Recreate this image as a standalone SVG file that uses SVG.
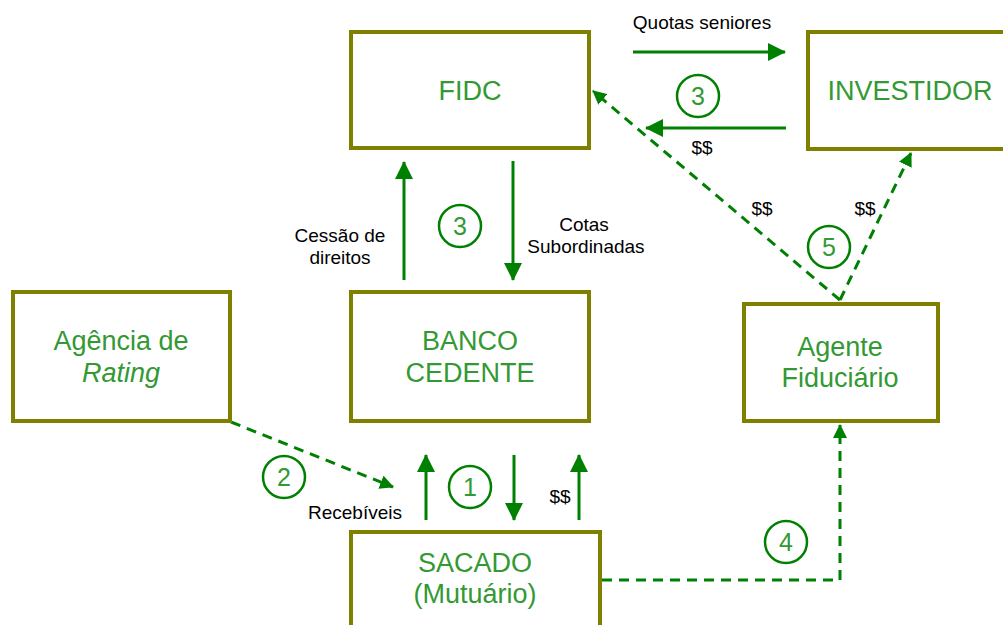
<svg xmlns="http://www.w3.org/2000/svg" width="1003" height="625" viewBox="0 0 1003 625">
<defs>
<style>
.box{fill:#fff;stroke:#808000;stroke-width:4}
.nt{font-family:"Liberation Sans",Arial,sans-serif;font-size:27px;fill:#339933;text-anchor:middle}
.lb{font-family:"Liberation Sans",Arial,sans-serif;font-size:19px;fill:#000;text-anchor:middle}
.sl{stroke:#008000;stroke-width:3;fill:none;marker-end:url(#ah)}
.dl{stroke:#008000;stroke-width:3;fill:none;stroke-dasharray:10 7;marker-end:url(#ahs)}
.cir{fill:#fff;stroke:#008000;stroke-width:2.5}
.num{font-family:"Liberation Sans",Arial,sans-serif;font-size:25px;fill:#339933;text-anchor:middle}
</style>
<marker id="ah" markerUnits="userSpaceOnUse" markerWidth="18" markerHeight="18" refX="17" refY="9" orient="auto"><path d="M0,0 L18,9 L0,18 Z" fill="#008000"/></marker>
<marker id="ahs" markerUnits="userSpaceOnUse" markerWidth="14" markerHeight="14" refX="13" refY="7" orient="auto"><path d="M0,0 L14,7 L0,14 Z" fill="#008000"/></marker>
</defs>
<rect width="1003" height="625" fill="#fff"/>
<g id="connectors">
<line class="sl" x1="633" y1="52" x2="785" y2="52"/>
<line class="sl" x1="786" y1="128" x2="646" y2="128"/>
<line class="sl" x1="404" y1="280" x2="404" y2="162"/>
<line class="sl" x1="513" y1="161" x2="513" y2="280"/>
<line class="sl" x1="426" y1="520" x2="426" y2="455"/>
<line class="sl" x1="514" y1="455" x2="514" y2="520"/>
<line class="sl" x1="579" y1="520" x2="579" y2="455"/>
<line class="dl" x1="231" y1="422" x2="393" y2="487"/>
<polyline class="dl" points="602,580 840,580 840,425"/>
<line class="dl" x1="840" y1="300" x2="593" y2="91"/>
<line class="dl" x1="840" y1="300" x2="911" y2="153"/>
<text class="lb" x="702" y="29">Quotas seniores</text>
<text class="lb" x="702" y="154">$$</text>
<text class="lb" x="340" y="242">Cessão de</text>
<text class="lb" x="340" y="264">direitos</text>
<text class="lb" x="584" y="231">Cotas</text>
<text class="lb" x="586" y="253">Subordinadas</text>
<text class="lb" x="355" y="519">Recebíveis</text>
<text class="lb" x="560" y="503">$$</text>
<text class="lb" x="762" y="215">$$</text>
<text class="lb" x="865" y="215">$$</text>
<circle class="cir" cx="698" cy="96" r="21"/><text class="num" x="698" y="105">3</text>
<circle class="cir" cx="460" cy="226" r="21"/><text class="num" x="460" y="235">3</text>
<circle class="cir" cx="284" cy="477" r="21"/><text class="num" x="284" y="486">2</text>
<circle class="cir" cx="470" cy="487" r="21"/><text class="num" x="470" y="496">1</text>
<circle class="cir" cx="786" cy="542" r="21"/><text class="num" x="786" y="551">4</text>
<circle class="cir" cx="829" cy="247" r="21"/><text class="num" x="829" y="256">5</text>
</g>
<g id="fidc"><rect class="box" x="351" y="32" width="238" height="116"/><text class="nt" x="470" y="100">FIDC</text></g>
<g id="investidor"><rect class="box" x="808" y="32" width="210" height="117"/><text class="nt" x="910" y="100">INVESTIDOR</text></g>
<g id="agencia"><rect class="box" x="13" y="292" width="217" height="129"/><text class="nt" x="121" y="350">Agência de</text><text class="nt" x="121" y="382" font-style="italic">Rating</text></g>
<g id="banco"><rect class="box" x="351" y="292" width="238" height="129"/><text class="nt" x="470" y="350">BANCO</text><text class="nt" x="470" y="382">CEDENTE</text></g>
<g id="agente"><rect class="box" x="744" y="304" width="194" height="117"/><text class="nt" x="840" y="356">Agente</text><text class="nt" x="840" y="387">Fiduciário</text></g>
<g id="sacado"><rect class="box" x="351" y="532" width="249" height="110"/><text class="nt" x="475" y="572">SACADO</text><text class="nt" x="475" y="603">(Mutuário)</text></g>
</svg>
